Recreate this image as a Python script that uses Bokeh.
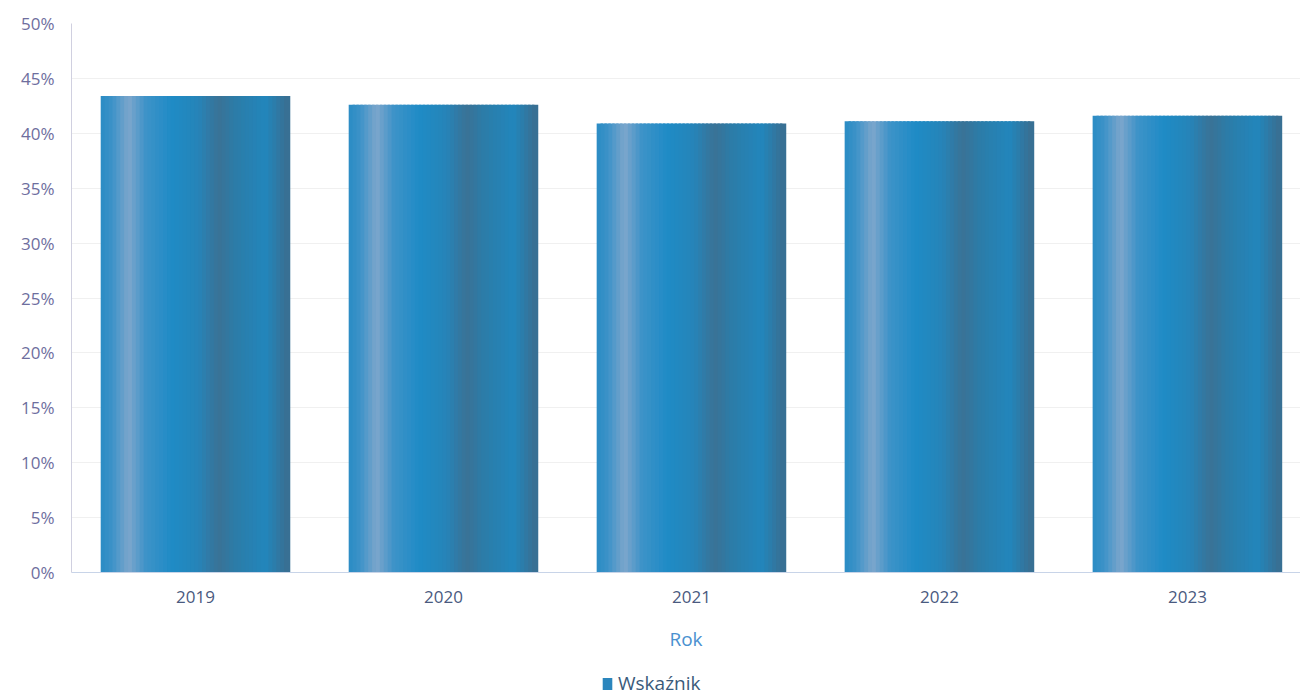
from bokeh.plotting import figure
from bokeh.layouts import column
from bokeh.models import Range1d, Legend, LegendItem, FixedTicker
from bokeh.embed import file_html
from bokeh.resources import INLINE

# ---- data ----
years = ["2019", "2020", "2021", "2022", "2023"]
values = [43.4, 42.6, 40.9, 41.1, 41.6]   # percent
y_ticks = [0, 5, 10, 15, 20, 25, 30, 35, 40, 45, 50]
series_name = "Wskaźnik"
x_title = "Rok"

# ---- gradient across bar width (style) ----
stops = [
    (0.00, (0x2a, 0x8c, 0xc4)),
    (0.06, (0x3c, 0x92, 0xc8)),
    (0.15, (0x7c, 0xa6, 0xcc)),
    (0.24, (0x3e, 0x93, 0xc8)),
    (0.38, (0x1f, 0x8b, 0xc6)),
    (0.52, (0x26, 0x84, 0xb8)),
    (0.63, (0x3a, 0x72, 0x96)),
    (0.72, (0x2c, 0x7c, 0xa8)),
    (0.88, (0x22, 0x86, 0xbc)),
    (1.00, (0x3a, 0x6e, 0x90)),
]


def grad(t):
    for (t0, c0), (t1, c1) in zip(stops[:-1], stops[1:]):
        if t0 <= t <= t1:
            f = (t - t0) / (t1 - t0) if t1 > t0 else 0
            return "#%02x%02x%02x" % tuple(int(round(a + (b - a) * f)) for a, b in zip(c0, c1))
    return "#%02x%02x%02x" % stops[-1][1]


xs = list(range(len(years)))

p = figure(width=1300, height=660, output_backend="svg", toolbar_location=None,
           x_range=Range1d(-0.5, 4.456), y_range=Range1d(0, 50),
           min_border_left=71, min_border_top=23, min_border_bottom=88,
           min_border_right=0, outline_line_color=None, background_fill_color="white")

bar_w = 0.755
N = 48
sw = bar_w / N
for k in range(N):
    off = -bar_w / 2 + sw * (k + 0.5)
    p.vbar(x=[x + off for x in xs], top=values, bottom=0, width=sw * 1.6,
           fill_color=grad((k + 0.5) / N), line_color=None)

# axes
p.yaxis.ticker = FixedTicker(ticks=y_ticks)
p.yaxis.major_label_overrides = {t: f"{t}%" for t in y_ticks}
p.yaxis.axis_line_color = "#d0d0e0"
p.yaxis.major_tick_line_color = None
p.yaxis.minor_tick_line_color = None
p.yaxis.major_label_standoff = 11
p.yaxis.major_label_text_font = "Open Sans"
p.yaxis.major_label_text_font_size = "17px"
p.yaxis.major_label_text_color = "#6e6e9e"

p.xaxis.ticker = FixedTicker(ticks=xs)
p.xaxis.major_label_overrides = {i: y for i, y in enumerate(years)}
p.xaxis.axis_line_color = "#c8d4e8"
p.xaxis.major_tick_line_color = None
p.xaxis.minor_tick_line_color = None
p.xaxis.major_label_standoff = 12
p.xaxis.major_label_text_font = "Open Sans"
p.xaxis.major_label_text_font_size = "17px"
p.xaxis.major_label_text_color = "#4a5a80"
p.xaxis.axis_label = x_title
p.xaxis.axis_label_text_font = "Open Sans"
p.xaxis.axis_label_text_font_style = "normal"
p.xaxis.axis_label_text_font_size = "19px"
p.xaxis.axis_label_text_color = "#4a90d0"
p.xaxis.axis_label_standoff = 20

p.xgrid.grid_line_color = None
p.ygrid.grid_line_color = "#f0f0f0"

# legend strip below
pl = figure(width=1300, height=35, output_backend="svg", toolbar_location=None,
            x_range=Range1d(0, 1), y_range=Range1d(0, 1),
            x_axis_type=None, y_axis_type=None, outline_line_color=None,
            min_border_left=0, min_border_right=0, min_border_top=0, min_border_bottom=0)
pl.xgrid.grid_line_color = None
pl.ygrid.grid_line_color = None
dummy = pl.vbar(x=[5], top=[0.5], width=0.1, fill_color="#2b86bd", line_color=None)
legend = Legend(items=[LegendItem(label=series_name, renderers=[dummy])],
                orientation="horizontal", location=(530, -1),
                border_line_color=None, background_fill_alpha=0,
                label_text_font="Open Sans", label_text_font_size="19px",
                label_text_color="#3a5a7a", glyph_width=12, glyph_height=15,
                label_standoff=5, padding=0, margin=0)
pl.add_layout(legend)

open("out.html", "w").write(file_html(column(p, pl, spacing=0), INLINE))
